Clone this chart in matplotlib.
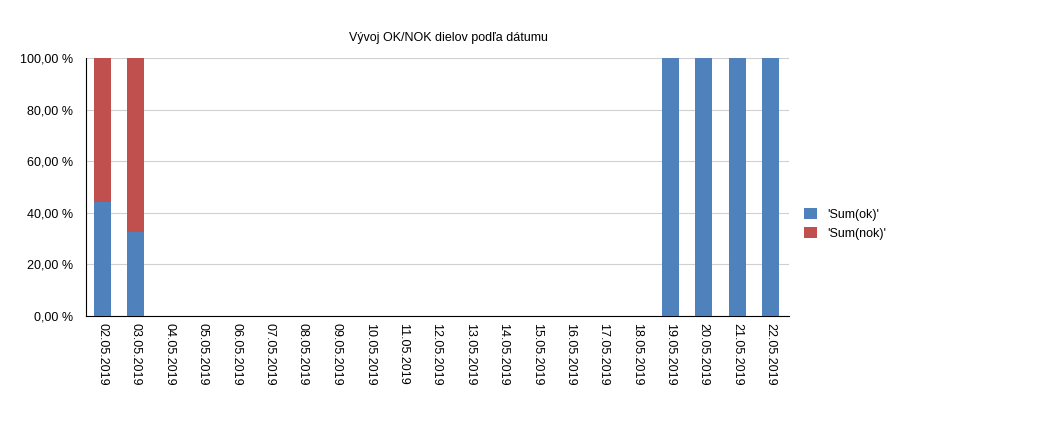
import matplotlib.pyplot as plt
import numpy as np

dates = ["02.05.2019", "03.05.2019", "04.05.2019", "05.05.2019", "06.05.2019",
         "07.05.2019", "08.05.2019", "09.05.2019", "10.05.2019", "11.05.2019",
         "12.05.2019", "13.05.2019", "14.05.2019", "15.05.2019", "16.05.2019",
         "17.05.2019", "18.05.2019", "19.05.2019", "20.05.2019", "21.05.2019",
         "22.05.2019"]
ok_pct = [44.2, 32.6, 0, 0, 0, 0, 0, 0, 0, 0, 0, 0, 0, 0, 0, 0, 0, 100, 100, 100, 100]
nok_pct = [55.8, 67.4, 0, 0, 0, 0, 0, 0, 0, 0, 0, 0, 0, 0, 0, 0, 0, 0, 0, 0, 0]

plt.rcParams["font.family"] = ["Liberation Sans", "DejaVu Sans"]

fig = plt.figure(figsize=(10.47, 4.36), dpi=100)
ax = fig.add_axes([86 / 1047, 1 - 316 / 436, (789 - 86) / 1047, (316 - 58) / 436])

x = np.arange(len(dates))
ax.bar(x, ok_pct, width=0.52, color="#4f81bd", label="'Sum(ok)'", zorder=3)
ax.bar(x, nok_pct, width=0.52, bottom=ok_pct, color="#c0504d", label="'Sum(nok)'", zorder=3)

ax.set_xlim(-0.49, len(dates) - 0.45)
ax.set_ylim(0, 100)
ax.set_yticks(np.arange(0, 101, 20))
ax.set_yticklabels([f"{v:.2f} %".replace(".", ",") for v in range(0, 101, 20)], fontsize=9)
ax.set_xticks(x)
ax.set_xticklabels(dates, rotation=270, fontsize=9, va="top", ha="center")
ax.tick_params(axis="x", length=0, pad=5)
ax.tick_params(axis="y", length=0, pad=9.5)
ax.grid(axis="y", color="#d0d0d0", lw=0.8, zorder=0)
for side in ["top", "right"]:
    ax.spines[side].set_visible(False)
for side in ["left", "bottom"]:
    ax.spines[side].set_color("black")

ax.set_title("Vývoj OK/NOK dielov podľa dátumu", fontsize=9, pad=12, x=0.516)

fig.legend(loc="center left", bbox_to_anchor=(793 / 1047, 1 - 224 / 436), frameon=False,
           fontsize=9, handlelength=1.0, handleheight=1.0, labelspacing=0.5)

fig.savefig("out.png", dpi=100)
